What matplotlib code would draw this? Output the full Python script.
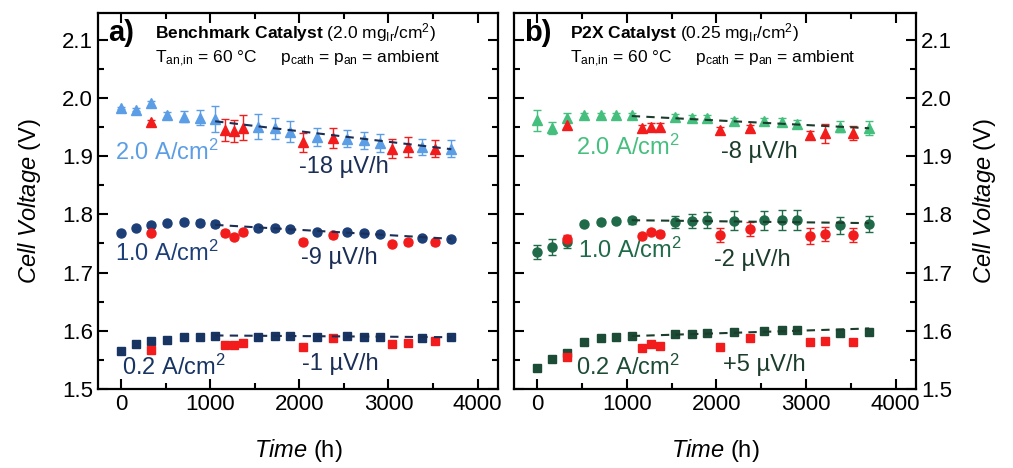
import matplotlib
matplotlib.use('Agg')
import matplotlib.pyplot as plt
from matplotlib.ticker import MultipleLocator

plt.rcParams['font.family'] = ['Liberation Sans', 'DejaVu Sans']
plt.rcParams['mathtext.fontset'] = 'custom'
plt.rcParams['mathtext.rm'] = 'Liberation Sans'
plt.rcParams['mathtext.it'] = 'Liberation Sans:italic'
plt.rcParams['mathtext.bf'] = 'Liberation Sans:bold'

# time points (h)
t_main = [0, 165, 335, 520, 710, 880, 1055, 1535, 1725, 1895, 2200, 2535, 2730, 2900, 3375, 3705]
t_red = [335, 1170, 1270, 1365, 2040, 2375, 3040, 3215, 3525]
t_fit = [1055, 3705]

# a) benchmark catalyst
a20 = [1.983, 1.980, 1.991, 1.971, 1.968, 1.966, 1.964, 1.951, 1.948, 1.942, 1.933, 1.930, 1.927, 1.923, 1.916, 1.913]
a20_err = [0.002, 0.003, 0.004, 0.005, 0.010, 0.013, 0.022, 0.021, 0.018, 0.018, 0.015, 0.015, 0.015, 0.015, 0.014, 0.014]
a20_red = [1.959, 1.945, 1.943, 1.949, 1.924, 1.931, 1.913, 1.916, 1.913]
a20_red_err = [0.003, 0.019, 0.019, 0.021, 0.016, 0.017, 0.016, 0.017, 0.015]
a20_fit = [1.960, 1.912]

a10 = [1.768, 1.776, 1.782, 1.786, 1.787, 1.786, 1.783, 1.776, 1.776, 1.775, 1.770, 1.770, 1.768, 1.767, 1.759, 1.758]
a10_err = [0.002, 0.002, 0.003, 0.003, 0.004, 0.004, 0.005, 0.004, 0.004, 0.003, 0.003, 0.003, 0.003, 0.003, 0.003, 0.003]
a10_red = [1.768, 1.768, 1.762, 1.769, 1.753, 1.764, 1.749, 1.752, 1.752]
a10_red_err = [0.002, 0.005, 0.005, 0.005, 0.004, 0.004, 0.004, 0.004, 0.004]
a10_fit = [1.782, 1.758]

a02 = [1.565, 1.578, 1.582, 1.585, 1.5885, 1.589, 1.591, 1.590, 1.591, 1.591, 1.590, 1.591, 1.590, 1.590, 1.587, 1.590]
a02_red = [1.567, 1.576, 1.576, 1.579, 1.572, 1.587, 1.578, 1.579, 1.582]
a02_fit = [1.592, 1.589]

# b) P2X catalyst
b20 = [1.962, 1.948, 1.966, 1.971, 1.971, 1.971, 1.970, 1.967, 1.966, 1.965, 1.960, 1.960, 1.959, 1.956, 1.951, 1.949]
b20_err = [0.018, 0.010, 0.008, 0.004, 0.003, 0.003, 0.004, 0.005, 0.005, 0.005, 0.006, 0.006, 0.006, 0.006, 0.010, 0.012]
b20_red = [1.953, 1.948, 1.951, 1.951, 1.945, 1.949, 1.937, 1.939, 1.940]
b20_red_err = [0.005, 0.005, 0.006, 0.006, 0.005, 0.004, 0.006, 0.017, 0.012]
b20_fit = [1.969, 1.948]

b10 = [1.736, 1.744, 1.752, 1.784, 1.787, 1.7885, 1.790, 1.787, 1.789, 1.790, 1.789, 1.790, 1.790, 1.790, 1.781, 1.783]
b10_err = [0.012, 0.014, 0.010, 0.002, 0.003, 0.004, 0.006, 0.010, 0.012, 0.014, 0.016, 0.016, 0.017, 0.017, 0.014, 0.014]
b10_red = [1.758, 1.763, 1.770, 1.767, 1.764, 1.775, 1.763, 1.766, 1.764]
b10_red_err = [0.006, 0.004, 0.004, 0.004, 0.012, 0.012, 0.014, 0.012, 0.012]
b10_fit = [1.790, 1.785]

b02 = [1.536, 1.552, 1.561, 1.581, 1.587, 1.589, 1.591, 1.594, 1.595, 1.597, 1.598, 1.600, 1.601, 1.601, 1.5965, 1.598]
b02_red = [1.555, 1.571, 1.578, 1.574, 1.573, 1.587, 1.580, 1.582, 1.581]
b02_fit = [1.591, 1.604]

RED = '#f21c1c'
LBLUE = '#5b9ee6'
NAVY = '#1d3f78'
DNAVY = '#173462'
LGREEN = '#45bf7e'
GREEN = '#1f6a48'
DGREEN = '#1c4b36'

fig = plt.figure(figsize=(10.13, 4.68), dpi=100)
ax1 = fig.add_axes([0.0967, 0.1688, 0.395, 0.8034])
ax2 = fig.add_axes([0.5074, 0.1688, 0.397, 0.8034])


def series(ax, y, err, color, marker, ms):
    ax.errorbar(t_main if len(y) == 16 else t_red, y, yerr=err, fmt=marker, color=color,
                ms=ms, capsize=3, elinewidth=1, capthick=1, zorder=3)


def panel(ax, data, fits, colors, labels, rates, label_pos, rate_pos, fitcolors):
    markers = ['^', 'o', 's']
    sizes = [6.5, 6.5, 5.5]
    for (y, yerr, yr, yrerr), col, m, s in zip(data, colors, markers, sizes):
        series(ax, y, yerr, col, m, s)
        series(ax, yr, yrerr, RED, m, s)
    for f, fc in zip(fits, fitcolors):
        ax.plot(t_fit, f, ls=(0, (4, 3)), color=fc, lw=1.5, zorder=4)
    for lab, pos, col in zip(labels, label_pos, colors):
        ax.text(pos[0], pos[1], lab, color=col, fontsize=17, ha='left', va='center')
    for r, pos, fc in zip(rates, rate_pos, fitcolors):
        ax.text(pos[0], pos[1], r, color=fc, fontsize=17, ha='left', va='center')
    ax.set_xlim(-260, 4230)
    ax.set_ylim(1.5, 2.146)
    ax.xaxis.set_major_locator(MultipleLocator(1000))
    ax.xaxis.set_minor_locator(MultipleLocator(500))
    ax.yaxis.set_major_locator(MultipleLocator(0.1))
    ax.yaxis.set_minor_locator(MultipleLocator(0.05))
    ax.tick_params(which='both', direction='in', top=True, right=True, left=True, bottom=True,
                   labelsize=16, width=1.5)
    ax.tick_params(which='major', length=7)
    ax.tick_params(which='minor', length=4)
    for sp in ax.spines.values():
        sp.set_linewidth(1.6)
    ax.set_xlabel(r'$\it{Time}$ (h)', fontsize=17, labelpad=16)


labels = ['2.0 A/cm$^2$', '1.0 A/cm$^2$', '0.2 A/cm$^2$']

panel(ax1,
      [(a20, a20_err, a20_red, a20_red_err),
       (a10, a10_err, a10_red, a10_red_err),
       (a02, None, a02_red, None)],
      [a20_fit, a10_fit, a02_fit],
      [LBLUE, NAVY, DNAVY], labels,
      ['-18 µV/h', '-9 µV/h', '-1 µV/h'],
      [(-70, 1.907), (-70, 1.734), (10, 1.537)],
      [(2000, 1.882), (2020, 1.725), (2035, 1.543)],
      ['#1b2f56', '#1b2f56', '#1b2f56'])

panel(ax2,
      [(b20, b20_err, b20_red, b20_red_err),
       (b10, b10_err, b10_red, b10_red_err),
       (b02, None, b02_red, None)],
      [b20_fit, b10_fit, b02_fit],
      [LGREEN, GREEN, DGREEN], labels,
      ['-8 µV/h', '-2 µV/h', '+5 µV/h'],
      [(430, 1.916), (450, 1.739), (430, 1.538)],
      [(2050, 1.907), (1975, 1.722), (2075, 1.541)],
      ['#1c3d2c', '#1c3d2c', '#1c3d2c'])

ax1.set_ylabel(r'$\it{Cell\ Voltage}$ (V)', fontsize=17, labelpad=14)
ax2.yaxis.tick_right()
ax2.tick_params(which='both', left=True, labelleft=False, labelright=True)
ax2.yaxis.set_label_position('right')
ax2.set_ylabel(r'$\it{Cell\ Voltage}$ (V)', fontsize=17, labelpad=14)

cond = r'T$_{\mathrm{an{,}in}}$ = 60 °C     p$_{\mathrm{cath}}$ = p$_{\mathrm{an}}$ = ambient'

ax1.text(0.025, 0.947, 'a)', transform=ax1.transAxes, fontsize=21, fontweight='bold',
         ha='left', va='center')
ax1.text(0.142, 0.947, r'$\mathbf{Benchmark\ Catalyst}$ (2.0 mg$_{\mathrm{Ir}}$/cm$^2$)',
         transform=ax1.transAxes, fontsize=12.5, ha='left', va='center')
ax1.text(0.142, 0.878, cond, transform=ax1.transAxes, fontsize=12.5, ha='left', va='center')

ax2.text(0.025, 0.947, 'b)', transform=ax2.transAxes, fontsize=21, fontweight='bold',
         ha='left', va='center')
ax2.text(0.139, 0.947, r'$\mathbf{P2X\ Catalyst}$ (0.25 mg$_{\mathrm{Ir}}$/cm$^2$)',
         transform=ax2.transAxes, fontsize=12.5, ha='left', va='center')
ax2.text(0.139, 0.878, cond, transform=ax2.transAxes, fontsize=12.5, ha='left', va='center')

fig.savefig('out.png', dpi=100)
